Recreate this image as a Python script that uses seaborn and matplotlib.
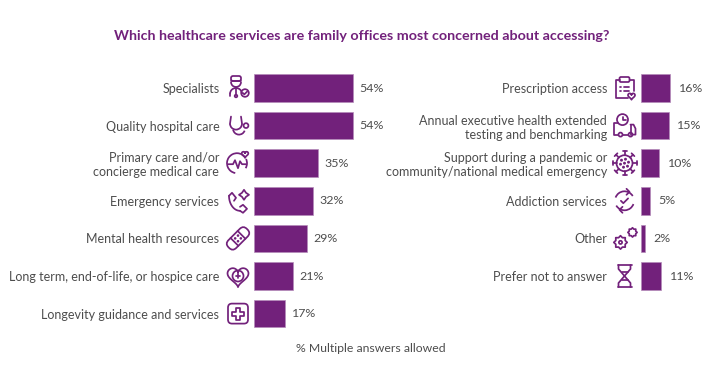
import numpy as np
import pandas as pd
import seaborn as sns
import matplotlib.pyplot as plt
from matplotlib.patches import Arc, Circle, FancyBboxPatch, Polygon
from matplotlib.transforms import Affine2D

left_labels = [
    "Specialists",
    "Quality hospital care",
    "Primary care and/or\nconcierge medical care",
    "Emergency services",
    "Mental health resources",
    "Long term, end-of-life, or hospice care",
    "Longevity guidance and services",
]
left_values = [54, 54, 35, 32, 29, 21, 17]

right_labels = [
    "Prescription access",
    "Annual executive health extended\ntesting and benchmarking",
    "Support during a pandemic or\ncommunity/national medical emergency",
    "Addiction services",
    "Other",
    "Prefer not to answer",
]
right_values = [16, 15, 10, 5, 2, 11]

title = "Which healthcare services are family offices most concerned about accessing?"
note = "% Multiple answers allowed"

# esthetics
purple = "#72217B"
grey = "#4D4D4D"
W, H = 720, 390
px_per_pct = 1.835
row = 37.6
first_row = 88
rows_top = first_row - row / 2
n_rows = 7

sns.set_theme(style="white")
plt.rcParams["font.family"] = ["Lato", "DejaVu Sans"]

fig = plt.figure(figsize=(W / 100, H / 100), dpi=100)


def panel(x0, x1):
    return fig.add_axes([x0 / W, 1 - (rows_top + n_rows * row) / H, (x1 - x0) / W, n_rows * row / H])


def draw_bars(ax, labels, values, pad, label_pad):
    df = pd.DataFrame({"label": labels, "value": values})
    sns.barplot(data=df, y="label", x="value", color=purple, saturation=1, width=0.73,
                edgecolor="#B48CBA", linewidth=0.5, ax=ax)
    ax.set_ylim(n_rows - 0.5, -0.5)
    ax.set_xlim(0, ax.get_position().width * W / px_per_pct)
    ax.set(xlabel="", ylabel="", xticks=[])
    ax.tick_params(axis="y", length=0, pad=pad, labelsize=9.0, labelcolor=grey)
    for t in ax.get_yticklabels():
        t.set_linespacing(1.22)
    sns.despine(ax=ax, left=True, bottom=True)
    ax.bar_label(ax.containers[0], labels=[f"{v}%" for v in values], padding=label_pad,
                 fontsize=8.9, color=grey)
    ax.patch.set_alpha(0)


ax_left = panel(254, 440)
draw_bars(ax_left, left_labels, left_values, 25, 4.7)
ax_right = panel(641, 720)
draw_bars(ax_right, right_labels, right_values, 24.5, 6.2)

fig.text(361.5 / W, 1 - 36 / H, title, ha="center", va="center", color=purple,
         fontsize=10.3, fontweight="bold")
fig.text(371 / W, 1 - 349 / H, note, ha="center", va="center", color=grey, fontsize=8.8)

# icons, drawn on a pixel overlay
ov = fig.add_axes([0, 0, 1, 1])
ov.set_xlim(0, W)
ov.set_ylim(H, 0)
ov.axis("off")
lw = 1.25
st = dict(color=purple, lw=lw, solid_capstyle="round", solid_joinstyle="round")
pt = dict(fill=False, edgecolor=purple, lw=lw)


def line(cx, cy, xs, ys):
    ov.plot(cx + np.array(xs, float), cy + np.array(ys, float), **st)


def circ(cx, cy, r):
    ov.add_patch(Circle((cx, cy), r, **pt))


def arc(cx, cy, r, a, b):
    ov.add_patch(Arc((cx, cy), 2 * r, 2 * r, theta1=a, theta2=b, color=purple, lw=lw))


def box(x, y, w, h, r=2):
    ov.add_patch(FancyBboxPatch((x, y), w, h, boxstyle=f"round,pad=0,rounding_size={r}", **pt))


def check(cx, cy, s=1.0):
    line(cx, cy, [-3 * s, -1 * s, 3 * s], [0, 2 * s, -2 * s])


def plus(cx, cy, s):
    line(cx, cy, [-s, s], [0, 0])
    line(cx, cy, [0, 0], [-s, s])


def heart(cx, cy, s):
    t = np.linspace(0, 2 * np.pi, 60)
    ov.plot(cx + s * (np.sin(t) ** 3), cy - s * (13 * np.cos(t) - 5 * np.cos(2 * t) - 2 * np.cos(3 * t) - np.cos(4 * t)) / 16, **st)


def gear(cx, cy, r, n=8):
    a = np.linspace(0, 2 * np.pi, 2 * n, endpoint=False)
    rr = np.where(np.arange(2 * n) % 2 == 0, r * 1.22, r * 0.92)
    ov.add_patch(Polygon(np.c_[cx + rr * np.cos(a), cy + rr * np.sin(a)], closed=True, joinstyle="round", **pt))


def icon_doctor(x, y):
    box(x - 7, y - 12, 10, 5, 2)
    arc(x - 2, y - 6, 5, 0, 180)
    line(x, y, [-7, 3], [-7, -7])
    line(x, y, [-2, -2], [-1, 7])
    arc(x - 2, y + 6, 6, 180, 360)
    line(x, y, [-8, -8], [6, 8])
    circ(x - 2, y + 8, 1.3)
    circ(x + 7, y + 5, 3.8)
    check(x + 7, y + 5, 0.7)


def icon_stethoscope(x, y):
    line(x, y, [-7, -8], [-9, -2])
    line(x, y, [3, 4], [-9, -2])
    arc(x - 2, y - 2, 6, 0, 180)
    arc(x + 1, y + 3, 6, 20, 170)
    circ(x + 8, y, 2.4)


def icon_pulse(x, y):
    arc(x - 1, y, 10, 100, 330)
    arc(x - 1, y, 10, 335, 30)
    line(x, y, [-10, -5, -3, 0, 2, 4, 8], [1, 1, -3, 5, -2, 1, 1])
    heart(x + 7, y - 9, 3.3)


def icon_phone(x, y):
    ov.plot(x - 9 + 11 * (1 - np.cos(np.linspace(0, np.pi / 2, 20))),
            y - 5 + 15 * np.sin(np.linspace(0, np.pi / 2, 20)), **st)
    line(x, y, [-9, -6, -2, -4], [-5, -8, -3, 0])
    line(x, y, [2, 5, 9, 5, 2], [6, 4, 8, 12, 10])
    ov.add_patch(Polygon([(x + 6, y - 11), (x + 8, y - 8), (x + 11, y - 6), (x + 8, y - 4),
                          (x + 6, y - 1), (x + 4, y - 4), (x + 1, y - 6), (x + 4, y - 8)],
                         closed=True, joinstyle="round", **pt))


def icon_bandage(x, y):
    tr = Affine2D().rotate_deg_around(x, y, -45) + ov.transData
    b = FancyBboxPatch((x - 13, y - 5.5), 26, 11, boxstyle="round,pad=0,rounding_size=5", transform=tr, **pt)
    ov.add_patch(b)
    for dx in (-5, 5):
        ov.plot([x + dx, x + dx], [y - 5.5, y + 5.5], transform=tr, **st)
    for dx, dy in ((-2, -2), (2, 2), (-2, 2), (2, -2)):
        ov.add_patch(Circle((x + dx, y + dy), 0.6, color=purple, transform=tr))


def icon_heart(x, y):
    heart(x, y, 10.5)
    circ(x, y, 5.5)
    plus(x, y, 2)


def icon_cross(x, y):
    box(x - 10, y - 10, 20, 20, 4)
    ov.add_patch(Polygon([(x - 2, y - 6), (x + 2, y - 6), (x + 2, y - 2), (x + 6, y - 2), (x + 6, y + 2),
                          (x + 2, y + 2), (x + 2, y + 6), (x - 2, y + 6), (x - 2, y + 2), (x - 6, y + 2),
                          (x - 6, y - 2), (x - 2, y - 2)], closed=True, joinstyle="round", **pt))


def icon_clipboard(x, y):
    line(x, y, [-5, -9, -9, 3], [-8, -8, 10, 10])
    line(x, y, [5, 9, 9], [-8, -8, 3])
    box(x - 5, y - 11, 10, 5, 1.5)
    for dy in (-1, 3):
        line(x, y, [-5, -4], [dy, dy])
        line(x, y, [-1, 4], [dy, dy])
    heart(x + 7, y + 8, 3.5)


def icon_truck(x, y):
    line(x, y, [-7, -11, -11, -7], [-3, -3, 9, 9])
    line(x, y, [-2, 3], [9, 9])
    line(x, y, [6, 6], [-1, 9])
    line(x, y, [6, 9, 11, 11, 9], [-1, -1, 3, 9, 9])
    circ(x - 4, y + 9, 2)
    circ(x + 6, y + 9, 2)
    circ(x - 2, y - 6, 5.5)
    line(x, y, [-2, -2, 1], [-9, -6, -6])


def icon_virus(x, y):
    circ(x, y, 8)
    for a in np.arange(0, 2 * np.pi, np.pi / 4):
        c, s = np.cos(a), np.sin(a)
        line(x, y, [8 * c, 12 * c], [8 * s, 12 * s])
        line(x, y, [12 * c - 2 * s, 12 * c + 2 * s], [12 * s + 2 * c, 12 * s - 2 * c])
    for dx, dy in ((-3, -3), (1, -4), (4, -1), (-4, 1), (0, 0), (3, 3), (-1, 4)):
        ov.add_patch(Circle((x + dx, y + dy), 0.75, color=purple))


def icon_cycle(x, y):
    arc(x, y, 9.5, 200, 330)
    arc(x, y, 9.5, 20, 150)
    line(x, y, [2, 5, 2], [-12, -9, -6])
    line(x, y, [-2, -5, -2], [12, 9, 6])
    check(x, y, 1.2)


def icon_gears(x, y):
    gear(x - 4, y + 4, 5.5)
    circ(x - 4, y + 4, 1.6)
    gear(x + 8, y - 6, 3.8)


def icon_hourglass(x, y):
    line(x, y, [-7, 7], [-11, -11])
    line(x, y, [-7, 7], [11, 11])
    line(x, y, [-6, -6, 6, 6], [-11, -7, 7, 11])
    line(x, y, [6, 6, -6, -6], [-11, -7, 7, 11])
    line(x, y, [-3, 3], [-4, -4])
    line(x, y, [-3, 3], [4, 4])


left_icons = [icon_doctor, icon_stethoscope, icon_pulse, icon_phone, icon_bandage, icon_heart, icon_cross]
right_icons = [icon_clipboard, icon_truck, icon_virus, icon_cycle, icon_gears, icon_hourglass]
for i, f in enumerate(left_icons):
    f(238, first_row + i * row)
for i, f in enumerate(right_icons):
    f(624.5, first_row + i * row)

fig.savefig("out.png", dpi=100)
